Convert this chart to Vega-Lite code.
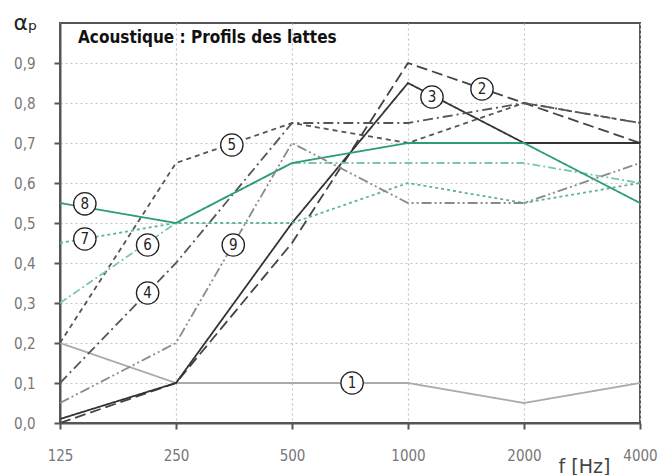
{
  "$schema": "https://vega.github.io/schema/vega-lite/v6.json",
  "autosize": {"type": "none"},
  "width": 580,
  "height": 400,
  "padding": {"left": 60, "top": 23, "right": 18, "bottom": 52},
  "background": "white",
  "config": {
    "view": {"stroke": "#555", "strokeWidth": 2},
    "font": "DejaVu Sans Condensed"
  },
  "title": {
    "text": "Acoustique : Profils des lattes",
    "anchor": "start",
    "frame": "group",
    "orient": "top",
    "baseline": "top",
    "offset": -36,
    "dx": 18,
    "fontSize": 17,
    "fontWeight": "bold",
    "font": "'Liberation Sans Narrow', 'DejaVu Sans Condensed'",
    "color": "#111"
  },
  "datasets": {
    "series": [
      {"s": "1", "f": 125, "a": 0.2}, {"s": "1", "f": 250, "a": 0.1}, {"s": "1", "f": 500, "a": 0.1}, {"s": "1", "f": 1000, "a": 0.1}, {"s": "1", "f": 2000, "a": 0.05}, {"s": "1", "f": 4000, "a": 0.1},
      {"s": "2", "f": 125, "a": 0.0}, {"s": "2", "f": 250, "a": 0.1}, {"s": "2", "f": 500, "a": 0.45}, {"s": "2", "f": 1000, "a": 0.9}, {"s": "2", "f": 2000, "a": 0.8}, {"s": "2", "f": 4000, "a": 0.7},
      {"s": "3", "f": 125, "a": 0.01}, {"s": "3", "f": 250, "a": 0.1}, {"s": "3", "f": 500, "a": 0.5}, {"s": "3", "f": 1000, "a": 0.85}, {"s": "3", "f": 2000, "a": 0.7}, {"s": "3", "f": 4000, "a": 0.7},
      {"s": "4", "f": 125, "a": 0.1}, {"s": "4", "f": 250, "a": 0.4}, {"s": "4", "f": 500, "a": 0.75}, {"s": "4", "f": 1000, "a": 0.75}, {"s": "4", "f": 2000, "a": 0.8}, {"s": "4", "f": 4000, "a": 0.75},
      {"s": "5", "f": 125, "a": 0.2}, {"s": "5", "f": 250, "a": 0.65}, {"s": "5", "f": 500, "a": 0.75}, {"s": "5", "f": 1000, "a": 0.7}, {"s": "5", "f": 2000, "a": 0.8}, {"s": "5", "f": 4000, "a": 0.75},
      {"s": "6", "f": 125, "a": 0.3}, {"s": "6", "f": 250, "a": 0.5}, {"s": "6", "f": 500, "a": 0.65}, {"s": "6", "f": 1000, "a": 0.65}, {"s": "6", "f": 2000, "a": 0.65}, {"s": "6", "f": 4000, "a": 0.6},
      {"s": "7", "f": 125, "a": 0.45}, {"s": "7", "f": 250, "a": 0.5}, {"s": "7", "f": 500, "a": 0.5}, {"s": "7", "f": 1000, "a": 0.6}, {"s": "7", "f": 2000, "a": 0.55}, {"s": "7", "f": 4000, "a": 0.6},
      {"s": "8", "f": 125, "a": 0.55}, {"s": "8", "f": 250, "a": 0.5}, {"s": "8", "f": 500, "a": 0.65}, {"s": "8", "f": 1000, "a": 0.7}, {"s": "8", "f": 2000, "a": 0.7}, {"s": "8", "f": 4000, "a": 0.55},
      {"s": "9", "f": 125, "a": 0.05}, {"s": "9", "f": 250, "a": 0.2}, {"s": "9", "f": 500, "a": 0.7}, {"s": "9", "f": 1000, "a": 0.55}, {"s": "9", "f": 2000, "a": 0.55}, {"s": "9", "f": 4000, "a": 0.65}
    ],
    "labels": [
      {"n": "1", "f": 716, "a": 0.1},
      {"n": "2", "f": 1556, "a": 0.835},
      {"n": "3", "f": 1154, "a": 0.815},
      {"n": "4", "f": 211, "a": 0.325},
      {"n": "5", "f": 349, "a": 0.695},
      {"n": "6", "f": 211, "a": 0.445},
      {"n": "7", "f": 145, "a": 0.46},
      {"n": "8", "f": 145, "a": 0.548},
      {"n": "9", "f": 352, "a": 0.445}
    ]
  },
  "layer": [
    {
      "data": {"name": "series"},
      "mark": {"type": "line", "strokeWidth": 1.8, "clip": true},
      "encoding": {
        "x": {
          "field": "f", "type": "quantitative",
          "scale": {"type": "log", "base": 2, "domain": [125, 4000], "nice": false},
          "axis": {
            "values": [125, 250, 500, 1000, 2000, 4000],
            "format": "d",
            "grid": true, "gridDash": [2, 3], "gridColor": "#c4c4c4", "gridWidth": 1.2,
            "domainColor": "#555", "domainWidth": 2,
            "ticks": true, "tickColor": "#555", "tickSize": 6, "tickWidth": 2,
            "labelFont": "'Liberation Sans Narrow', 'DejaVu Sans Condensed'", "labelFontSize": 15, "labelColor": "#777",
            "labelPadding": 19,
            "labelFlush": false,
            "title": "f [Hz]",
            "titleFont": "DejaVu Sans", "titleFontSize": 19, "titleFontWeight": "normal", "titleColor": "#444",
            "titleAnchor": "start", "titleAlign": "left", "titleBaseline": "alphabetic",
            "titleX": 498, "titleY": 49
          }
        },
        "y": {
          "field": "a", "type": "quantitative",
          "scale": {"domain": [0, 1.0], "nice": false},
          "axis": {
            "values": [0, 0.1, 0.2, 0.3, 0.4, 0.5, 0.6, 0.7, 0.8, 0.9],
            "labelExpr": "replace(format(datum.value, '.1f'), '.', ',')",
            "grid": true, "gridDash": [2, 3], "gridColor": "#c4c4c4", "gridWidth": 1.2,
            "domainColor": "#555", "domainWidth": 2,
            "ticks": true, "tickColor": "#555", "tickSize": 6, "tickWidth": 2,
            "labelFont": "'Liberation Sans Narrow', 'DejaVu Sans Condensed'", "labelFontSize": 15, "labelColor": "#777",
            "labelPadding": 19,
            "title": "αₚ",
            "titleFont": "DejaVu Sans", "titleFontSize": 22, "titleFontWeight": "normal", "titleColor": "#222",
            "titleAngle": 0, "titleAlign": "left", "titleBaseline": "alphabetic",
            "titleX": -47, "titleY": 6
          }
        },
        "color": {
          "field": "s", "type": "nominal", "legend": null,
          "scale": {
            "domain": ["1", "2", "3", "4", "5", "6", "7", "8", "9"],
            "range": ["#aaaaaa", "#444444", "#333333", "#555555", "#555555", "#7cc7ab", "#5fb496", "#2e9c7c", "#8a8a8a"]
          }
        },
        "strokeDash": {
          "field": "s", "type": "nominal", "legend": null,
          "scale": {
            "domain": ["1", "2", "3", "4", "5", "6", "7", "8", "9"],
            "range": [[1, 0], [11, 5], [1, 0], [10, 4, 2, 4], [5, 4], [8, 3, 2, 3], [3, 3], [1, 0], [10, 3, 2, 3, 2, 3]]
          }
        },
        "order": {"field": "f", "type": "quantitative"}
      }
    },
    {
      "data": {"name": "labels"},
      "mark": {"type": "point", "shape": "circle", "filled": false, "fill": "white", "fillOpacity": 1, "stroke": "#222", "strokeWidth": 1.3, "size": 500, "opacity": 1},
      "encoding": {
        "x": {"field": "f", "type": "quantitative"},
        "y": {"field": "a", "type": "quantitative"}
      }
    },
    {
      "data": {"name": "labels"},
      "mark": {"type": "text", "fontSize": 15, "color": "#222", "font": "DejaVu Sans Condensed", "baseline": "middle", "align": "center"},
      "encoding": {
        "x": {"field": "f", "type": "quantitative"},
        "y": {"field": "a", "type": "quantitative"},
        "text": {"field": "n"}
      }
    }
  ]
}
